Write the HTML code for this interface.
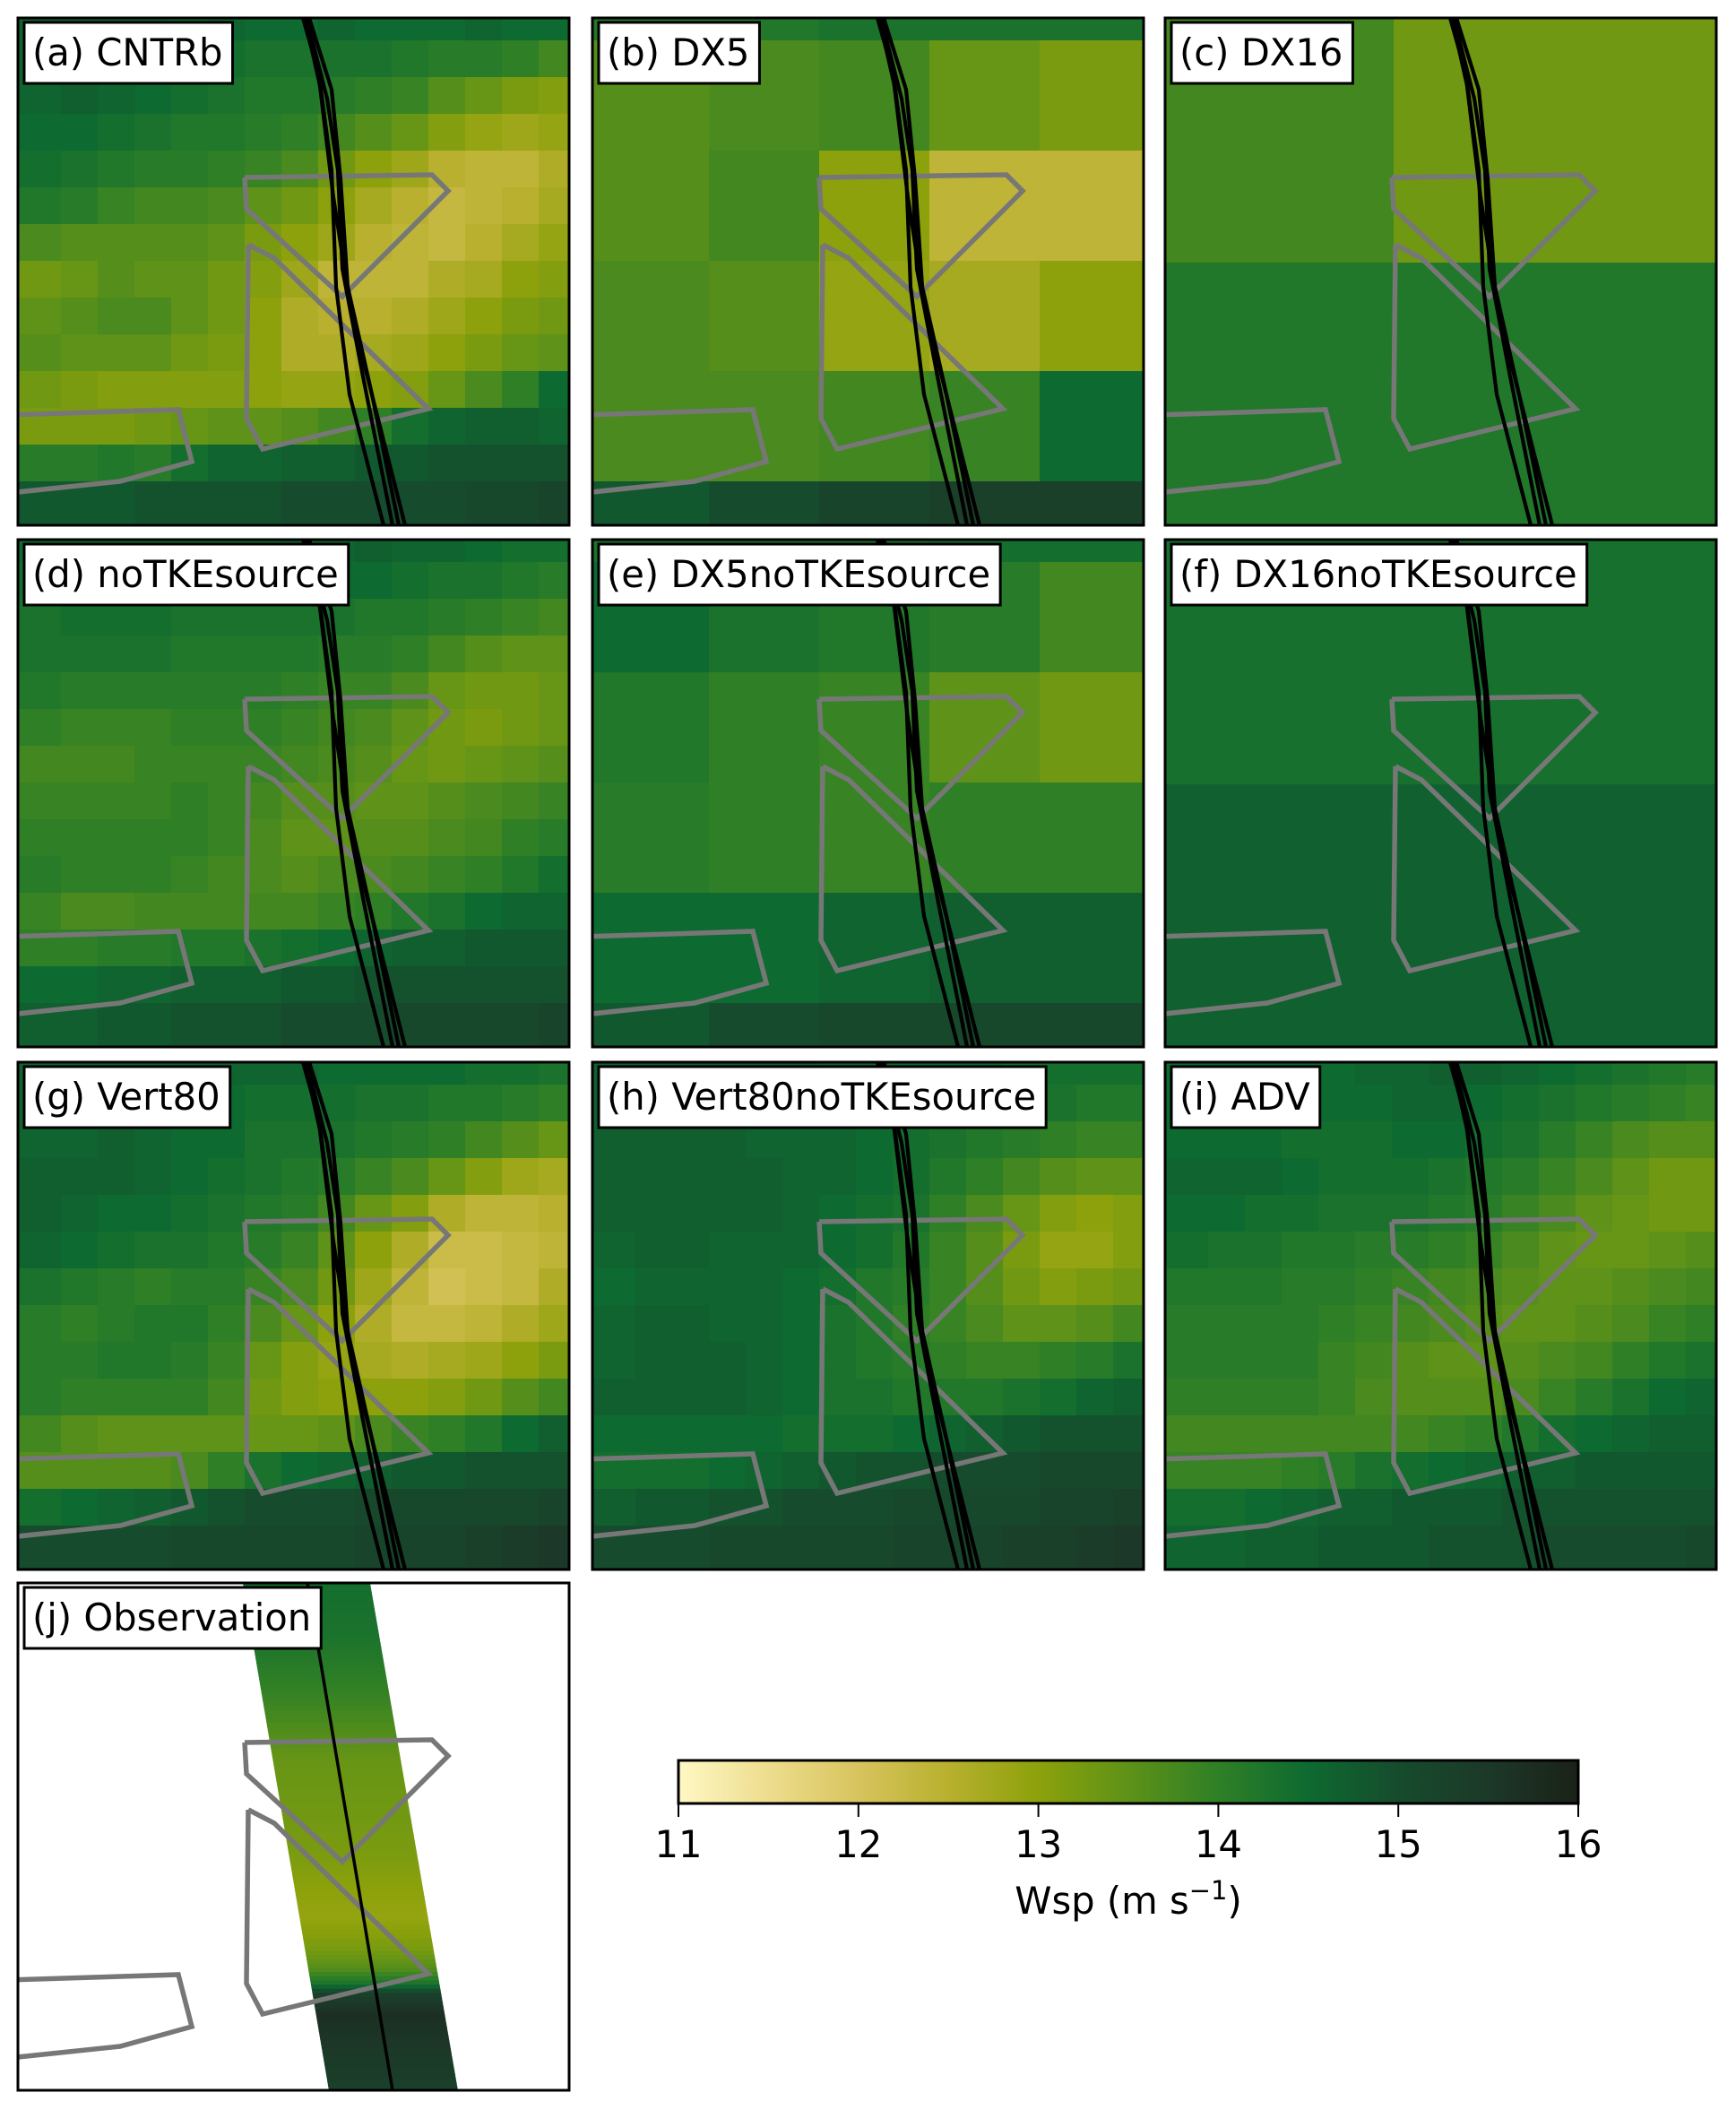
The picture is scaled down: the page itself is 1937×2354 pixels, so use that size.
<!DOCTYPE html>
<html><head><meta charset="utf-8"><style>
html,body{margin:0;padding:0;background:#fff;}
svg{display:block;font-family:"DejaVu Sans","Liberation Sans",sans-serif;}
</style></head><body>
<svg id="fig" width="1937" height="2354" viewBox="0 0 1937 2354" xmlns="http://www.w3.org/2000/svg"></svg>
<script>
// ---- colormap (value stops and colours) ----
const cmapVals = [11.0,11.5,12.0,12.5,13.0,13.5,14.0,14.5,15.0,15.5,16.0];
const cmapCols = ["#fef8c4","#eedd8e","#d7c45d","#b8b02e","#8ca10b","#5e9218","#2f7f26","#0d6a30","#164c2d","#1c3828","#1b2218"];
const cbTicks = [11,12,13,14,15,16];

// ---- panel a CNTRb (14 rows x 15 cols) ----
const gridA = [
[14.6,14.6,14.6,14.6,14.5,14.6,14.5,14.5,14.6,14.5,14.5,14.5,14.6,14.5,14.5],
[14.6,14.6,14.6,14.5,14.4,14.4,14.3,14.3,14.3,14.3,14.2,14.1,14.1,14.0,13.8],
[14.6,14.7,14.6,14.5,14.4,14.3,14.2,14.2,14.1,14.0,13.9,13.6,13.4,13.2,13.1],
[14.5,14.5,14.4,14.3,14.2,14.2,14.1,14.0,13.8,13.6,13.4,13.1,12.9,12.8,12.9],
[14.4,14.3,14.2,14.1,14.1,14.0,13.9,13.7,13.3,13.0,12.8,12.5,12.4,12.4,12.6],
[14.2,14.1,13.9,13.8,13.8,13.7,13.5,13.3,13.0,12.7,12.5,12.3,12.4,12.5,12.7],
[13.7,13.6,13.6,13.6,13.6,13.5,13.2,13.0,12.8,12.5,12.4,12.3,12.5,12.7,12.9],
[13.3,13.4,13.6,13.5,13.5,13.3,13.1,12.8,12.4,12.4,12.4,12.6,12.7,13.0,13.1],
[13.5,13.6,13.7,13.7,13.5,13.3,13.0,12.6,12.5,12.5,12.6,12.8,13.0,13.2,13.3],
[13.6,13.5,13.5,13.5,13.3,13.2,13.0,12.6,12.6,12.7,12.8,13.0,13.2,13.4,13.5],
[13.3,13.2,13.1,13.1,13.1,13.1,13.0,12.9,12.9,13.0,13.1,13.4,13.7,14.0,14.5],
[13.2,13.2,13.2,13.3,13.4,13.5,13.5,13.6,13.8,14.0,14.4,14.6,14.7,14.7,14.6],
[14.1,14.1,14.2,14.1,14.4,14.6,14.6,14.7,14.7,14.8,14.8,14.9,14.9,14.9,14.9],
[14.8,14.8,14.8,14.9,14.9,14.9,14.9,15.0,15.0,15.0,15.0,15.0,15.1,15.1,15.2]];
// ---- panel b DX5 (6 x 5) ----
const gridB = [
[14.2,14.2,14.3,14.3,14.3],
[13.6,13.7,13.8,13.4,13.2],
[13.6,13.8,13.0,12.4,12.4],
[13.7,13.6,12.9,12.7,13.0],
[13.7,13.7,13.8,13.9,14.5],
[14.8,15.0,15.2,15.3,15.3]];
// ---- panel c DX16 (2 x 2) ----
const gridC = [[13.8,13.3],[14.2,14.2]];
// ---- panel d noTKEsource ----
const gridD = [
[14.5,14.5,14.5,14.5,14.5,14.5,14.5,14.6,14.6,14.7,14.6,14.6,14.5,14.4,14.4],
[14.4,14.5,14.5,14.5,14.4,14.4,14.4,14.4,14.5,14.5,14.4,14.3,14.3,14.2,14.1],
[14.3,14.4,14.4,14.4,14.3,14.3,14.3,14.3,14.3,14.2,14.2,14.1,14.0,13.9,13.8],
[14.3,14.3,14.3,14.3,14.2,14.2,14.2,14.2,14.1,14.1,14.0,13.8,13.6,13.5,13.5],
[14.2,14.1,14.1,14.1,14.1,14.1,14.1,14.0,13.9,13.9,13.7,13.4,13.3,13.3,13.4],
[14.0,13.9,13.9,13.9,14.0,14.0,14.0,13.9,13.8,13.7,13.5,13.3,13.2,13.3,13.4],
[13.8,13.8,13.8,13.9,13.9,13.9,13.9,13.8,13.7,13.6,13.4,13.3,13.4,13.5,13.6],
[13.9,13.9,13.9,13.9,14.0,13.9,13.8,13.6,13.6,13.5,13.5,13.6,13.7,13.8,13.9],
[14.0,14.0,14.0,14.0,14.0,13.9,13.7,13.5,13.5,13.6,13.6,13.7,13.8,14.0,14.1],
[14.1,14.0,14.0,14.0,13.9,13.8,13.7,13.6,13.7,13.7,13.8,13.9,14.0,14.2,14.4],
[13.9,13.7,13.7,13.8,13.8,13.8,13.8,13.8,13.9,14.0,14.2,14.3,14.5,14.6,14.6],
[14.0,14.0,14.1,14.1,14.2,14.2,14.3,14.4,14.5,14.6,14.7,14.7,14.8,14.8,14.8],
[14.5,14.5,14.6,14.6,14.7,14.7,14.7,14.8,14.8,14.9,14.9,14.9,14.9,14.9,14.9],
[14.7,14.7,14.8,14.8,14.9,14.9,14.9,15.0,15.0,15.0,15.1,15.1,15.1,15.1,15.2]];
// ---- panel e DX5noTKEsource ----
const gridE = [
[14.3,14.3,14.3,14.4,14.4],
[14.5,14.3,14.2,14.1,13.8],
[14.2,14.0,13.9,13.5,13.3],
[14.1,14.0,13.9,14.0,14.0],
[14.5,14.5,14.6,14.7,14.7],
[14.8,15.0,15.1,15.1,15.1]];
// ---- panel f DX16noTKEsource ----
const gridF = [[14.35,14.35],[14.65,14.65]];
// ---- panel g Vert80 ----
const gridG = [
[14.6,14.6,14.6,14.6,14.6,14.6,14.6,14.6,14.5,14.5,14.5,14.5,14.4,14.4,14.3],
[14.6,14.6,14.7,14.6,14.5,14.5,14.4,14.4,14.4,14.3,14.3,14.2,14.2,14.1,14.0],
[14.6,14.6,14.7,14.6,14.5,14.5,14.3,14.3,14.3,14.2,14.1,14.0,13.8,13.6,13.4],
[14.7,14.7,14.7,14.6,14.5,14.4,14.3,14.2,14.1,13.9,13.7,13.4,13.1,12.8,12.7],
[14.7,14.6,14.5,14.5,14.4,14.3,14.2,14.1,13.8,13.4,13.1,12.6,12.4,12.4,12.5],
[14.6,14.5,14.4,14.3,14.3,14.2,14.1,13.9,13.5,13.0,12.6,12.2,12.2,12.3,12.4],
[14.3,14.2,14.1,14.0,14.1,14.1,13.9,13.7,13.3,12.8,12.4,12.1,12.2,12.3,12.6],
[14.1,14.0,14.1,14.2,14.2,14.0,13.7,13.4,13.0,12.6,12.3,12.3,12.4,12.6,12.8],
[14.1,14.1,14.2,14.2,14.1,13.9,13.4,13.1,12.9,12.7,12.6,12.7,12.8,13.0,13.2],
[14.1,14.0,14.0,14.0,14.0,13.8,13.3,13.1,13.0,13.0,13.0,13.1,13.3,13.6,13.8],
[13.8,13.6,13.5,13.5,13.5,13.5,13.4,13.4,13.5,13.7,13.9,14.0,14.2,14.5,14.7],
[13.6,13.6,13.6,13.6,13.7,14.0,14.3,14.5,14.6,14.7,14.8,14.8,14.9,14.9,14.9],
[14.4,14.5,14.6,14.7,14.8,14.9,15.0,15.0,15.0,15.1,15.1,15.1,15.1,15.1,15.2],
[15.0,15.0,15.0,15.0,15.1,15.1,15.1,15.1,15.1,15.2,15.2,15.2,15.3,15.4,15.5]];
// ---- panel h Vert80noTKEsource ----
const gridH = [
[14.7,14.7,14.7,14.7,14.7,14.7,14.6,14.6,14.5,14.5,14.5,14.4,14.4,14.4,14.4],
[14.7,14.7,14.7,14.7,14.6,14.6,14.6,14.5,14.5,14.4,14.4,14.3,14.3,14.2,14.2],
[14.7,14.7,14.7,14.7,14.6,14.6,14.6,14.5,14.4,14.3,14.2,14.1,14.0,13.9,13.9],
[14.7,14.7,14.7,14.7,14.7,14.6,14.6,14.5,14.4,14.2,14.0,13.8,13.6,13.5,13.5],
[14.7,14.7,14.7,14.7,14.7,14.6,14.5,14.4,14.3,14.0,13.7,13.4,13.1,13.0,13.1],
[14.6,14.7,14.7,14.6,14.6,14.6,14.5,14.4,14.2,13.9,13.6,13.2,12.9,12.9,13.1],
[14.5,14.6,14.6,14.6,14.6,14.5,14.4,14.2,14.1,13.9,13.6,13.3,13.1,13.2,13.3],
[14.6,14.7,14.7,14.6,14.6,14.5,14.3,14.2,14.0,13.9,13.7,13.5,13.5,13.6,13.8],
[14.6,14.7,14.7,14.7,14.6,14.5,14.3,14.2,14.1,14.0,13.9,13.9,14.0,14.1,14.3],
[14.7,14.7,14.7,14.7,14.6,14.5,14.3,14.3,14.2,14.2,14.2,14.3,14.4,14.6,14.7],
[14.5,14.5,14.5,14.5,14.5,14.4,14.4,14.4,14.5,14.6,14.7,14.8,14.9,14.9,14.9],
[14.4,14.4,14.4,14.5,14.6,14.7,14.8,14.9,14.9,15.0,15.0,15.0,15.1,15.1,15.1],
[14.7,14.8,14.8,14.9,14.9,15.0,15.0,15.0,15.1,15.1,15.1,15.1,15.2,15.2,15.3],
[15.0,15.0,15.0,15.1,15.1,15.1,15.1,15.1,15.2,15.2,15.2,15.3,15.3,15.4,15.5]];
// ---- panel i ADV ----
const gridI = [
[14.5,14.5,14.5,14.5,14.5,14.6,14.6,14.7,14.7,14.6,14.5,14.4,14.3,14.2,14.1],
[14.5,14.5,14.5,14.5,14.5,14.5,14.6,14.6,14.5,14.4,14.3,14.2,14.1,14.0,13.9],
[14.5,14.5,14.5,14.4,14.4,14.4,14.5,14.5,14.4,14.3,14.1,13.9,13.7,13.6,13.6],
[14.6,14.6,14.6,14.5,14.4,14.4,14.4,14.3,14.2,14.1,13.9,13.7,13.5,13.3,13.3],
[14.5,14.5,14.4,14.4,14.3,14.3,14.3,14.2,14.1,13.9,13.7,13.5,13.4,13.3,13.3],
[14.4,14.3,14.3,14.2,14.2,14.1,14.1,14.0,13.9,13.7,13.5,13.4,13.4,13.5,13.6],
[14.2,14.2,14.2,14.1,14.1,14.0,13.9,13.8,13.7,13.6,13.5,13.5,13.6,13.7,13.8],
[14.1,14.1,14.1,14.1,14.0,13.9,13.8,13.7,13.6,13.5,13.5,13.6,13.7,13.9,14.0],
[14.1,14.1,14.1,14.1,13.9,13.8,13.6,13.5,13.5,13.6,13.7,13.8,14.0,14.2,14.3],
[14.0,14.0,14.0,14.0,13.9,13.7,13.6,13.6,13.6,13.7,13.9,14.1,14.3,14.5,14.6],
[13.8,13.8,13.8,13.8,13.8,13.8,13.8,13.9,14.0,14.2,14.4,14.5,14.6,14.7,14.7],
[13.9,13.9,13.9,14.0,14.1,14.3,14.4,14.5,14.6,14.7,14.7,14.8,14.8,14.8,14.8],
[14.4,14.4,14.5,14.6,14.7,14.7,14.8,14.8,14.8,14.9,14.9,14.9,14.9,14.9,14.9],
[14.6,14.6,14.7,14.7,14.8,14.8,14.8,14.9,14.9,14.9,15.0,15.0,15.0,15.0,15.1]];
// ---- panel j observation along track (fraction down panel, value) ----
const obsPos = [0.0,0.10,0.23,0.35,0.45,0.53,0.60,0.66,0.72,0.76,0.79,0.81,0.85,0.92,1.0];
const obsVal = [14.4,14.3,13.9,13.4,13.3,13.2,13.0,12.9,13.2,13.6,14.3,15.3,15.7,15.5,15.3];

const labels = ["(a) CNTRb","(b) DX5","(c) DX16","(d) noTKEsource","(e) DX5noTKEsource","(f) DX16noTKEsource","(g) Vert80","(h) Vert80noTKEsource","(i) ADV","(j) Observation"];

const NS="http://www.w3.org/2000/svg";
const svg=document.getElementById('fig');
const PW=615, PH=566;
const origins=[[20,20],[661,20],[1300,20],[20,602],[661,602],[1300,602],[20,1185],[661,1185],[1300,1185],[20,1766]];
const geoFine={x0:7,dx:41,y0:-16,dy:41};
const geoDX5={x0:7,dx:123,y0:-98,dy:123};
const geoDX16={x0:-114,dx:369,y0:-96,dy:369};
const grids=[[gridA,geoFine],[gridB,geoDX5],[gridC,geoDX16],[gridD,geoFine],[gridE,geoDX5],[gridF,geoDX16],[gridG,geoFine],[gridH,geoFine],[gridI,geoFine]];

function hex(c){return [parseInt(c.substr(1,2),16),parseInt(c.substr(3,2),16),parseInt(c.substr(5,2),16)];}
function cmap(v){
  v=Math.max(11,Math.min(16,v));
  for(let i=0;i<cmapVals.length-1;i++){
    if(v<=cmapVals[i+1]){
      const t=(v-cmapVals[i])/(cmapVals[i+1]-cmapVals[i]);
      const a=hex(cmapCols[i]),b=hex(cmapCols[i+1]);
      return 'rgb('+a.map((x,k)=>Math.round(x+(b[k]-x)*t)).join(',')+')';
    }
  }
  return cmapCols[cmapCols.length-1];
}
function mk(tag,attrs,parent){const e=document.createElementNS(NS,tag);for(const k in attrs)e.setAttribute(k,attrs[k]);(parent||svg).appendChild(e);return e;}

const polyUpper=[[253,178],[462,175],[480,193],[362,311],[255,213],[253,178]];
const polyLower=[[257,253],[286,268],[458,436],[273,481],[255,447],[257,253]];
const polyLeft=[[-10,443],[179,437],[194,495],[114,517],[-10,530]];
const tracks=[
 [[320,0],[338,80],[350,170],[355,300],[370,420],[408,566]],
 [[322,0],[345,90],[357,170],[362,280],[385,400],[418,566]],
 [[325,0],[350,80],[360,180],[368,300],[395,420],[425,566]],
 [[318,0],[335,60],[352,200],[372,330],[400,440],[432,566]]];
const trackJ=[[323,0],[336,78],[418,566]];
function pts(p){return p.map(q=>q.join(',')).join(' ');}

const defs=mk('defs',{});
origins.forEach((o,pi)=>{
  const g=mk('g',{transform:'translate('+o[0]+','+o[1]+')'});
  
  
  const cp=mk('clipPath',{id:'cp'+pi},defs);
  mk('rect',{x:0,y:0,width:PW,height:PH},cp);
  const inner=mk('g',{'clip-path':'url(#cp'+pi+')'},g);
  if(pi<9){
    const [grid,geo]=grids[pi];
    const rows=grid.length, cols=grid[0].length;
    grid.forEach((row,r)=>row.forEach((v,c)=>{
      let x=geo.x0+c*geo.dx, y=geo.y0+r*geo.dy, w=geo.dx, h=geo.dy;
      if(c===0){w+=x+1;x=-1;}
      if(c===cols-1){w=PW+1-x;}
      if(r===0){h+=y+1;y=-1;}
      if(r===rows-1){h=PH+1-y;}
      const cell=mk('rect',{x:x,y:y,width:w+0.6,height:h+0.6,fill:cmap(v)},inner);
      
      
    }));
  } else {
    mk('rect',{x:0,y:0,width:PW,height:PH,fill:'#fff'},inner);
    const lt=251,lb=347,rt=393,rb=491;
    const N=120;
    for(let s=0;s<N;s++){
      const f0=s/N,f1=(s+1)/N,fm=(f0+f1)/2;
      let v=obsVal[obsVal.length-1];
      for(let k=0;k<obsPos.length-1;k++){if(fm<=obsPos[k+1]){const t=(fm-obsPos[k])/(obsPos[k+1]-obsPos[k]);v=obsVal[k]+(obsVal[k+1]-obsVal[k])*t;break;}}
      const y0=f0*PH,y1=f1*PH+0.8;
      const p=[[lt+(lb-lt)*f0,y0],[rt+(rb-rt)*f0,y0],[rt+(rb-rt)*f1,y1],[lt+(lb-lt)*f1,y1]];
      const strip=mk('polygon',{points:pts(p),fill:cmap(v)},inner);
      
      
    }
  }
  [polyUpper,polyLower].forEach(p=>{
    const pl=mk('polyline',{points:pts(p),fill:'none',stroke:'#777','stroke-width':5.5,'stroke-linejoin':'miter'},inner);
    
    
  });
  const lp=mk('polyline',{points:pts(polyLeft),fill:'none',stroke:'#777','stroke-width':5.5},inner);
  
  
  if(pi<9){
    tracks.forEach(t=>{
      const tl=mk('polyline',{points:pts(t),fill:'none',stroke:'#000','stroke-width':4.2,'stroke-linejoin':'round'},inner);
      
      
    });
  } else {
    const tl=mk('polyline',{points:pts(trackJ),fill:'none',stroke:'#000','stroke-width':3.5},inner);
    
    
  }
  const fr=mk('rect',{x:0,y:0,width:PW,height:PH,fill:'none',stroke:'#000','stroke-width':3},g);
  
  
  const lb=mk('rect',{x:7,y:5,width:100,height:68,fill:'#fff',stroke:'#000','stroke-width':3},g);
  
  
  const tx=mk('text',{x:16,y:53,'font-size':41.7,fill:'#000'},g);
  tx.textContent=labels[pi];
  
  
  const w=tx.getComputedTextLength();
  lb.setAttribute('width',w+20);
});

// colorbar
const cbX=757,cbW=1004,cbY=1964,cbH=48;
const grad=mk('linearGradient',{id:'cbg',x1:0,x2:1,y1:0,y2:0},defs);
for(let k=0;k<=50;k++){const v=11+k*0.1;mk('stop',{offset:(k/50),'stop-color':cmap(v)},grad);}
const cb=mk('rect',{x:cbX,y:cbY,width:cbW,height:cbH,fill:'url(#cbg)',stroke:'#000','stroke-width':3});


cbTicks.forEach(t=>{
  const x=cbX+(t-11)/5*cbW;
  const tk=mk('line',{x1:x,x2:x,y1:cbY+cbH,y2:cbY+cbH+15,stroke:'#000','stroke-width':2});
  
  
  const tl=mk('text',{x:x,y:2072,'font-size':41.7,'text-anchor':'middle'});
  tl.textContent=String(t);
  
  
});
const ct=mk('text',{x:1259,y:2135,'font-size':41.7,'text-anchor':'middle'});
ct.innerHTML='Wsp (m s<tspan dy="-16" font-size="29">−1</tspan><tspan dy="16">)</tspan>';


</script>
</body></html>
